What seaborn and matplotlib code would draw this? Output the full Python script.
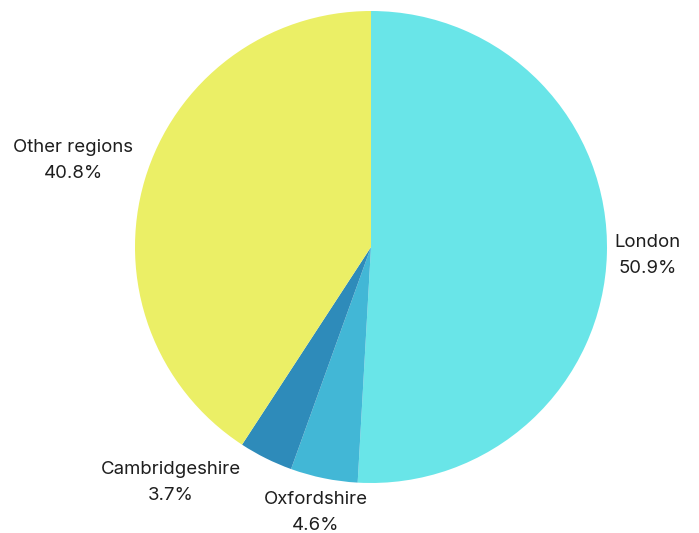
import matplotlib
matplotlib.use("Agg")
import matplotlib.pyplot as plt
import numpy as np
import seaborn as sns

# Share of companies by region
regions = ["London", "Oxfordshire", "Cambridgeshire", "Other regions"]
shares = [50.9, 4.6, 3.7, 40.8]
colors = ["#69E5E8", "#42B7D6", "#2E8BBA", "#EBEF66"]

sns.set_theme(style="white")
plt.rcParams["font.family"] = ["Inter", "DejaVu Sans"]

fig = plt.figure(figsize=(6.99, 5.33), dpi=100)
cx, cy = 371 / 699, 1 - 247 / 533
rw, rh = 236 / 699, 236 / 533
ax = fig.add_axes([cx - rw, cy - rh, 2 * rw, 2 * rh])

wedges, _ = ax.pie(
    shares,
    colors=sns.color_palette(colors),
    startangle=90,
    counterclock=False,
    radius=1.0,
    wedgeprops=dict(linewidth=0),
)
ax.set_xlim(-1, 1)
ax.set_ylim(-1, 1)
ax.set_aspect("equal")
ax.axis("off")

# label placement: distance from centre, alignment, extra offset in points
label_style = {
    "London": (1.05, "left", "center", (-3, -1)),
    "Oxfordshire": (1.05, "center", "top", (-4, -1)),
    "Cambridgeshire": (1.05, "right", "top", (-14, 6)),
    "Other regions": (1.05, "right", "bottom", (0, -4)),
}

for w, name, val in zip(wedges, regions, shares):
    ang = np.deg2rad((w.theta1 + w.theta2) / 2)
    r, ha, va, off = label_style[name]
    ax.annotate(
        f"{name}\n{val:.1f}%",
        xy=(r * np.cos(ang), r * np.sin(ang)),
        xytext=off,
        textcoords="offset points",
        ha=ha, va=va, ma="center",
        fontsize=13.4, color="#1e1e1e", linespacing=1.7,
        annotation_clip=False,
    )

fig.savefig("out.png", dpi=100, facecolor="white")
